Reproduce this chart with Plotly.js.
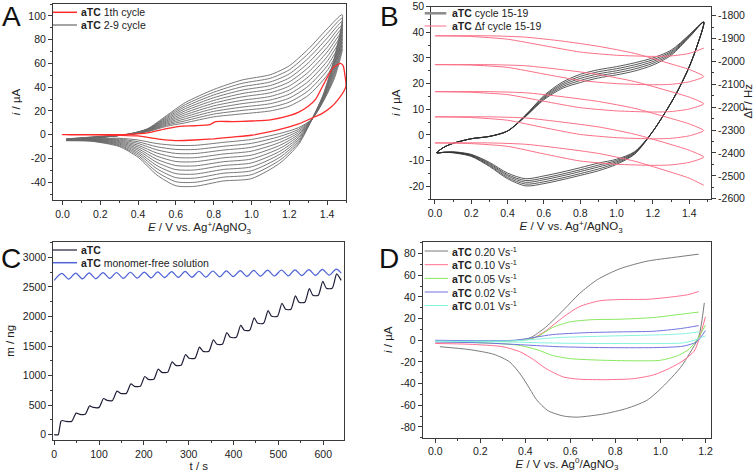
<!DOCTYPE html>
<html><head><meta charset="utf-8">
<script src="https://cdn.plot.ly/plotly-3.0.1.min.js"></script>
<style>html,body{margin:0;padding:0;background:#fff}#chart{width:756px;height:472px}</style>
</head><body><div id="chart"></div>
<script>
// ---------- Panel A: CV cycles ----------
const EfA = [0.02, 0.2, 0.35, 0.45, 0.55, 0.65, 0.8, 0.95, 1.1, 1.2, 1.3, 1.4, 1.48];
const ErA = [1.44, 1.38, 1.32, 1.25, 1.15, 1.0, 0.85, 0.7, 0.6, 0.5, 0.4, 0.3, 0.15, 0.02];
const cycA2 = [-3.5,-1.5,0,2.5,7,10,15,17.5,20,24,33,50,72, 48,28,13,6,1,-4,-6.5,-9,-9,-7.5,-4.5,-3,-3.5,-4];
const cycA3 = [-3.7,-1.6,0,2.8,7.9,11.7,17.3,20.4,23,27.4,36.9,53.9,74.9, 49.8,28.6,13,4.6,-1.5,-7.3,-9.8,-12.5,-12.4,-10.2,-6,-3.7,-3.7,-4.1];
const cycA4 = [-3.8,-1.7,0.1,3,8.8,13.4,19.6,23.2,26.1,30.8,40.8,57.8,77.8, 51.6,29.2,13,3.2,-4,-10.6,-13,-15.9,-15.8,-12.8,-7.4,-4.4,-3.9,-4.2];
const cycA5 = [-4,-1.8,0.2,3.3,9.7,15.1,21.9,26.1,29.2,34.2,44.7,61.7,80.7, 53.4,29.8,13,1.8,-6.5,-13.9,-16.3,-19.4,-19.2,-15.5,-8.9,-5.1,-4.1,-4.3];
const cycA6 = [-4.1,-1.9,0.2,3.5,10.6,16.8,24.2,28.9,32.2,37.6,48.6,65.6,83.6, 55.2,30.4,13,0.4,-9,-17.2,-19.5,-22.8,-22.6,-18.1,-10.3,-5.8,-4.3,-4.4];
const cycA7 = [-4.2,-2,0.3,3.8,11.5,18.5,26.5,31.8,35.3,41,52.5,69.5,86.5, 57,31,13,-1,-11.5,-20.5,-22.8,-26.3,-26,-20.8,-11.8,-6.5,-4.5,-4.5];
const cycA8 = [-4.4,-2.1,0.3,4,12.4,20.2,28.8,34.6,38.3,44.4,56.4,73.4,89.4, 58.8,31.6,13,-2.4,-14,-23.8,-26,-29.7,-29.4,-23.4,-13.2,-7.2,-4.7,-4.6];
const cycA9 = [-4.5,-2.2,0.4,4.3,13.3,21.9,31.1,37.5,41.4,47.8,60.3,77.3,92.3, 60.6,32.2,13,-3.8,-16.5,-27.1,-29.3,-33.2,-32.8,-26.1,-14.7,-7.9,-4.9,-4.7];
const cycA10 = [-4.7,-2.3,0.4,4.5,14.2,23.6,33.4,40.3,44.4,51.2,64.2,81.2,95.2, 62.4,32.8,13,-5.2,-19,-30.4,-32.5,-36.6,-36.2,-28.7,-16.1,-8.6,-5.1,-4.8];
const cycA11 = [-4.8,-2.4,0.5,4.8,15.1,25.3,35.7,43.2,47.5,54.6,68.1,85.1,98.1, 64.2,33.4,13,-6.6,-21.5,-33.7,-35.8,-40.1,-39.6,-31.4,-17.6,-9.3,-5.3,-4.9];
const cycA12 = [-5,-2.5,0.5,5,16,27,38,46,50.5,58,72,89,101, 66,34,13,-8,-24,-37,-39,-43.5,-43,-34,-19,-10,-5.5,-5];
const redAE = [0,0.2,0.35,0.45,0.55,0.62,0.7,0.78,0.81,0.9,1.0,1.1,1.2,1.25,1.3,1.34,1.39,1.43,1.47,1.485,1.5,
               1.49,1.46,1.42,1.37,1.32,1.25,1.2,1.1,1.0,0.9,0.8,0.7,0.6,0.5,0.4,0.3,0.15,0.0];
const redAI = [0,0,0.3,1.5,5,7,7.5,8.5,11,11,11.5,12.5,16,19,24,30,45,56,60,58,41,
               37,30,23,17.5,14,9,6.5,2.5,-0.5,-2,-3.5,-4.5,-5,-3.5,-1,-0.5,-0.2,0];

// ---------- Panel B: CV cycles 15-19 + delta f ----------
const EfB = [0.01,0.05,0.1,0.2,0.3,0.4,0.5,0.6,0.7,0.8,0.9,1.0,1.1,1.2,1.3,1.4,1.48];
const ErB = [1.44,1.4,1.35,1.3,1.2,1.1,1.0,0.9,0.8,0.7,0.6,0.5,0.4,0.3,0.2,0.1,0.05,0.01];
const cycB19 = [-7,-4.8,-3.3,-1.5,-0.6,1.5,7.8,15.3,20.5,23.6,25.4,26.6,28.1,30,33,39,44, 34,26.5,19,12.5,1.4,-7.5,-11.5,-14,-15.8,-17.5,-19,-19.9,-17.1,-12.3,-8.4,-7,-6.8,-7];
const cycB18 = [-7,-4.8,-3.3,-1.5,-0.6,1.5,7.7,14.9,19.9,22.8,24.6,25.8,27.3,29.3,32.5,38.8,44, 34,26.5,19,12.5,1.4,-7.3,-11,-13.3,-15.1,-16.8,-18.3,-19.2,-16.6,-11.9,-8.2,-6.9,-6.8,-7];
const cycB17 = [-7,-4.8,-3.3,-1.5,-0.6,1.5,7.5,14.5,19.3,22,23.8,25,26.5,28.6,32,38.5,44, 34,26.5,19,12.5,1.4,-7,-10.5,-12.5,-14.3,-16,-17.5,-18.5,-16,-11.5,-8,-6.8,-6.8,-7];
const cycB16 = [-7,-4.8,-3.3,-1.5,-0.6,1.5,7.4,14.1,18.7,21.2,23,24.2,25.7,27.9,31.5,38.3,44, 34,26.5,19,12.5,1.4,-6.8,-10,-11.8,-13.6,-15.3,-16.8,-17.8,-15.5,-11.1,-7.8,-6.7,-6.8,-7];
const cycB15 = [-7,-4.8,-3.3,-1.5,-0.6,1.5,7.2,13.7,18.1,20.4,22.2,23.4,24.9,27.2,31,38,44, 34,26.5,19,12.5,1.4,-6.5,-9.5,-11,-12.8,-14.5,-16,-17.1,-14.9,-10.7,-7.6,-6.6,-6.8,-7];
const EfDf = [0,0.3,0.5,0.7,0.9,1.1,1.3,1.4,1.48];
const ErDf = [1.48,1.4,1.3,1.2,1.0,0.8,0.6,0.4,0.2,0];
const dfRev0 = [-1942,-1965,-1976,-1978,-1973,-1959,-1931,-1903,-1891,-1888];
const dfFwd0 = [-1888,-1888,-1894,-1911,-1934,-1965,-2011,-2035,-2066];
const dfRev1 = [-2066,-2089,-2100,-2102,-2097,-2083,-2055,-2026,-2016,-2014];
const dfFwd1 = [-2014,-2014,-2019,-2036,-2057,-2088,-2132,-2156,-2185];
const dfRev2 = [-2185,-2208,-2219,-2221,-2216,-2202,-2174,-2145,-2135,-2132];
const dfFwd2 = [-2132,-2132,-2137,-2154,-2175,-2205,-2249,-2273,-2302];
const dfRev3 = [-2302,-2325,-2336,-2338,-2333,-2319,-2289,-2257,-2245,-2242];
const dfFwd3 = [-2242,-2242,-2247,-2265,-2286,-2318,-2363,-2388,-2418];
const dfRev4 = [-2418,-2441,-2452,-2454,-2449,-2435,-2404,-2371,-2359,-2356];
const dfFwd4 = [-2356,-2356,-2362,-2380,-2402,-2436,-2484,-2510,-2541];

// ---------- Panel C: mass vs time ----------
const tC = [0,9,12,15,18,26, 39,49,57, 69,79,87, 100,110,118, 130,140,148, 161,171,179, 192,202,210, 222,232,240, 253,263,271, 283,293,301, 314,324,332, 345,355,363, 375,385,393, 406,416,424, 436,446,454, 467,477,485, 498,508,516, 528,538,546, 559,569,577, 589,599,607, 620,630,640];
const mC = [0,0,110,225,240,225, 225,364,344, 344,488,462, 462,612,580, 580,736,699, 699,860,818, 818,984,936, 936,1108,1055, 1055,1232,1173, 1173,1356,1292, 1292,1480,1410, 1410,1604,1529, 1529,1728,1647, 1647,1852,1766, 1766,1976,1884, 1884,2100,2003, 2003,2224,2121, 2121,2348,2240, 2240,2472,2358, 2358,2596,2477, 2477,2720,2610];
const tBlue = [0,17,32,48,63,78,93,109,124,139,154,170,185,201,216,231,246,262,277,292,307,323,338,354,369,384,399,415,430,445,460,476,491,507,522,537,552,568,583,598,613,629,640];
const mBlue = [2612,2730,2632,2734,2636,2737,2639,2741,2643,2744,2646,2748,2650,2751,2653,2755,2657,2758,2660,2762,2664,2765,2667,2769,2671,2772,2674,2776,2678,2779,2681,2783,2685,2786,2688,2790,2692,2793,2695,2797,2699,2800,2735];

// ---------- Panel D: scan rates ----------
const d20uE = [0,0.2,0.37,0.42,0.49,0.57,0.64,0.72,0.82,0.94,1.06,1.17];
const d20uI = [-1,-1,0,2,12,28,43,56,66,73,76.5,79.5];
const d20lE = [0.02,0.15,0.26,0.33,0.38,0.42,0.45,0.5,0.57,0.63,0.75,0.85,0.94,1.01,1.09,1.13,1.17,1.195];
const d20lI = [-6,-8.6,-13,-20,-32,-45,-55,-65,-70,-71,-68,-63,-55.5,-43,-25,-12,3,34.5];
const d10uE = [0,0.35,0.43,0.49,0.57,0.64,0.73,0.82,0.94,1.03,1.12,1.17];
const d10uI = [-1.5,-0.5,1.5,8.6,21.6,31,36.4,37.6,37.8,39.5,42,45];
const d10lE = [0,0.15,0.3,0.38,0.44,0.49,0.57,0.64,0.76,0.88,0.97,1.04,1.1,1.15,1.17,1.2];
const d10lI = [-3,-3.7,-6,-11,-18.5,-26,-34,-36,-36.4,-35.5,-32,-26,-19,-10,0,21.6];
const d05uE = [0,0.35,0.45,0.52,0.6,0.7,0.82,0.97,1.09,1.17];
const d05uI = [-1,-0.5,3,11.7,17,19,19.4,21,24,26];
const d05lE = [0,0.22,0.37,0.46,0.52,0.6,0.75,0.9,1.0,1.08,1.13,1.17,1.2];
const d05lI = [-1,-2.5,-4.6,-9.3,-14,-17,-18.5,-19,-18.5,-14,-7.7,3,14];
const d02uE = [0,0.35,0.45,0.52,0.67,0.82,0.97,1.09,1.17];
const d02uI = [0,0,3,5.2,7,7.7,8.3,10.8,13.5];
const d02lE = [0,0.22,0.42,0.55,0.75,0.97,1.1,1.16,1.2];
const d02lI = [-1.5,-2.5,-4.6,-6,-6.8,-6.8,-5.5,-1.5,9];
const d01uE = [0,0.35,0.45,0.55,0.7,0.9,1.0,1.1,1.17];
const d01uI = [-1,-0.5,1,2.5,3.5,4.5,5,6,7.7];
const d01lE = [0,0.3,0.5,0.7,0.9,1.0,1.1,1.15,1.2];
const d01lI = [-1,-1.5,-2.5,-3,-3,-3,-2.5,0,4];

// ---------- tick labels ----------
const tickA_y = [-40,-20,0,20,40,60,80,100];
const tickB_y = [-20,-10,0,10,20,30,40,50];
const tickB_y2 = [-2600,-2500,-2400,-2300,-2200,-2100,-2000,-1900,-1800];
const tickD_y = [-80,-60,-40,-20,0,20,40,60,80];
const lab = v => v.map(n => String(n));

// ---------- legends ----------
const legA = ['<b>aTC</b> 1th cycle', '<b>aTC</b> 2-9 cycle'];
const legB = ['<b>aTC</b> cycle 15-19', '<b>aTC</b> \u0394f cycle 15-19'];
const legC = ['<b>aTC</b>', '<b>aTC</b> monomer-free solution'];
const legD = ['<b>aTC</b> 0.20 Vs<sup>-1</sup>', '<b>aTC</b> 0.10 Vs<sup>-1</sup>', '<b>aTC</b> 0.05 Vs<sup>-1</sup>', '<b>aTC</b> 0.02 Vs<sup>-1</sup>', '<b>aTC</b> 0.01 Vs<sup>-1</sup>'];

const FONT = 'Liberation Sans, Arial, sans-serif';
const W = 756, H = 472;
const PX = x => x / W, PY = y => 1 - y / H;
const RED = '#ff2a2a', GREYA = '#6a6a6a', PINK = 'rgb(250,112,135)', BLK = '#2f2f2f', NAVY = '#1f1f3a', BLUE = '#4f63d6';
const DCOL = ['#7a7a7a', '#ff6f8e', '#86e85e', '#7272e0', '#86f2e0'];

const traces = [];
const spl = (s) => ({shape: 'spline', smoothing: s});
const EA = EfA.concat(ErA);
[cycA2,cycA3,cycA4,cycA5,cycA6,cycA7,cycA8,cycA9,cycA10,cycA11,cycA12].forEach(c => {
  traces.push({x: EA, y: c, xaxis: 'x', yaxis: 'y', mode: 'lines', line: Object.assign({color: GREYA, width: 0.9}, spl(0.7)), hoverinfo: 'skip'});
});
traces.push({x: redAE, y: redAI, xaxis: 'x', yaxis: 'y', mode: 'lines', line: Object.assign({color: RED, width: 1.3}, spl(0.5)), hoverinfo: 'skip'});

const EB = EfB.concat(ErB);
[cycB15,cycB16,cycB17,cycB18,cycB19].forEach(c => {
  traces.push({x: EB, y: c, xaxis: 'x2', yaxis: 'y2', mode: 'lines', line: Object.assign({color: BLK, width: 0.8}, spl(0.8)), hoverinfo: 'skip'});
});
// delta f zigzag
const segs = [[ErDf, dfRev0],[EfDf, dfFwd0],[ErDf, dfRev1],[EfDf, dfFwd1],[ErDf, dfRev2],[EfDf, dfFwd2],[ErDf, dfRev3],[EfDf, dfFwd3],[ErDf, dfRev4],[EfDf, dfFwd4]];
const dfx = [], dfy = [];
segs.forEach((s, i) => { s[0].forEach((e, j) => { if (i > 0 && j === 0) return; dfx.push(e); dfy.push(s[1][j]); }); });
traces.push({x: dfx, y: dfy, xaxis: 'x2', yaxis: 'y5', mode: 'lines', line: Object.assign({color: PINK, width: 1}, spl(0.6)), hoverinfo: 'skip'});

traces.push({x: tBlue, y: mBlue, xaxis: 'x3', yaxis: 'y3', mode: 'lines', line: Object.assign({color: BLUE, width: 1.2}, spl(0.8)), hoverinfo: 'skip'});
traces.push({x: tC, y: mC, xaxis: 'x3', yaxis: 'y3', mode: 'lines', line: Object.assign({color: NAVY, width: 1.2}, spl(0.6)), hoverinfo: 'skip'});

[[d20uE,d20uI,d20lE,d20lI],[d10uE,d10uI,d10lE,d10lI],[d05uE,d05uI,d05lE,d05lI],[d02uE,d02uI,d02lE,d02lI],[d01uE,d01uI,d01lE,d01lI]].forEach((d, i) => {
  traces.push({x: d[0].concat([null], d[2]), y: d[1].concat([null], d[3]), xaxis: 'x4', yaxis: 'y4', mode: 'lines', connectgaps: false,
    line: Object.assign({color: DCOL[i], width: 1}, spl(0.7)), hoverinfo: 'skip'});
});

const AXC = '#3a3a3a';
function ax(o) {
  return Object.assign({showline: true, linecolor: AXC, linewidth: 1, mirror: true, ticks: 'outside', ticklen: 4, tickwidth: 1, tickcolor: AXC,
    showgrid: false, zeroline: false, automargin: false, ticklabeloverflow: 'allow', tickfont: {family: FONT, size: 10.5, color: '#222'}}, o);
}
function mn(d) { return {ticks: 'outside', ticklen: 2, tickwidth: 1, tickcolor: AXC, showgrid: false, dtick: d}; }
function ttl(t, s) { return {text: t, font: {family: FONT, size: 11.5, color: '#222'}, standoff: s}; }

const layout = {
  width: W, height: H, margin: {l: 0, r: 0, t: 0, b: 0}, paper_bgcolor: '#fff', plot_bgcolor: '#fff', showlegend: false,
  xaxis: ax({domain: [PX(53), PX(346)], range: [-0.05, 1.5], anchor: 'y', tick0: 0, dtick: 0.2, tickformat: '.1f', minor: mn(0.1),
    title: ttl('<i>E</i> / V vs. Ag<sup>+</sup>/AgNO<sub>3</sub>', 4)}),
  yaxis: ax({domain: [PY(200), PY(4)], range: [-55, 110], anchor: 'x', tickvals: tickA_y, ticktext: lab(tickA_y), minor: mn(10),
    title: ttl('<i>i</i> / \u00b5A', 5)}),
  xaxis2: ax({domain: [PX(431.3), PX(711)], range: [-0.02, 1.52], anchor: 'y2', tick0: 0, dtick: 0.2, tickformat: '.1f', minor: mn(0.1),
    title: ttl('<i>E</i> / V vs. Ag<sup>+</sup>/AgNO<sub>3</sub>', 4)}),
  yaxis2: ax({domain: [PY(199), PY(6.5)], range: [-25, 50.05], anchor: 'x2', tickvals: tickB_y, ticktext: lab(tickB_y), minor: mn(5),
    title: ttl('<i>i</i> / \u00b5A', 5)}),
  yaxis5: ax({overlaying: 'y2', side: 'right', anchor: 'x2', range: [-2601, -1760], mirror: false, tickvals: tickB_y2, ticktext: lab(tickB_y2),
    minor: mn(50)}),
  xaxis3: ax({domain: [PX(53.3), PX(344.3)], range: [-2, 647], anchor: 'y3', tick0: 0, dtick: 100, minor: mn(50),
    title: ttl('t / s', 4)}),
  yaxis3: ax({domain: [PY(440), PY(241.7)], range: [-90, 3265], anchor: 'x3', tick0: 0, dtick: 500, minor: mn(250),
    title: ttl('m / ng', 5)}),
  xaxis4: ax({domain: [PX(422.7), PX(711.3)], range: [-0.056, 1.226], anchor: 'y4', tick0: 0, dtick: 0.2, tickformat: '.1f', minor: mn(0.1),
    title: ttl('<i>E</i> / V vs. Ag<sup>0</sup>/AgNO<sub>3</sub>', 4)}),
  yaxis4: ax({domain: [PY(437.7), PY(241.7)], range: [-90, 91], anchor: 'x4', tickvals: tickD_y, ticktext: lab(tickD_y), minor: mn(10),
    title: ttl('<i>i</i> / \u00b5A', 5)}),
  shapes: [], annotations: []
};

// right-axis title of panel B
layout.annotations.push({xref: 'paper', yref: 'paper', x: PX(747), y: PY(101.5), xanchor: 'center', yanchor: 'middle', textangle: -90, showarrow: false,
  text: '\u0394f / Hz', font: {family: FONT, size: 11.5, color: '#222'}});

function legend(labels, colors, widths, rows, x0, x1, tx) {
  labels.forEach((t, i) => {
    layout.shapes.push({type: 'line', xref: 'paper', yref: 'paper', x0: PX(x0), x1: PX(x1), y0: PY(rows[i]), y1: PY(rows[i]), line: {color: colors[i], width: widths[i]}});
    layout.annotations.push({xref: 'paper', yref: 'paper', x: PX(tx), y: PY(rows[i]), xanchor: 'left', yanchor: 'middle', showarrow: false, text: t,
      font: {family: FONT, size: 10.5, color: '#222'}});
  });
}
legend(legA, [RED, GREYA], [1.5, 1.2], [12.3, 25], 53, 77, 79);
legend(legB, ['#8a8a8a', PINK], [2.5, 1], [13.3, 26], 424.7, 446.3, 450);
legend(legC, [NAVY, BLUE], [1.2, 1.5], [250, 262.7], 53, 77, 79);
legend(legD, DCOL, [1, 1, 1, 1, 1], [251, 264.7, 278.4, 292, 305.5], 424.7, 448, 450);

[['A', 11, 16], ['B', 389, 16], ['C', 11, 258], ['D', 389, 258]].forEach(p => {
  layout.annotations.push({xref: 'paper', yref: 'paper', x: PX(p[1]), y: PY(p[2]), xanchor: 'center', yanchor: 'middle', showarrow: false, text: p[0],
    font: {family: FONT, size: 28, color: '#111'}});
});

Plotly.newPlot('chart', traces, layout, {staticPlot: true, displayModeBar: false});
</script>
</body></html>
